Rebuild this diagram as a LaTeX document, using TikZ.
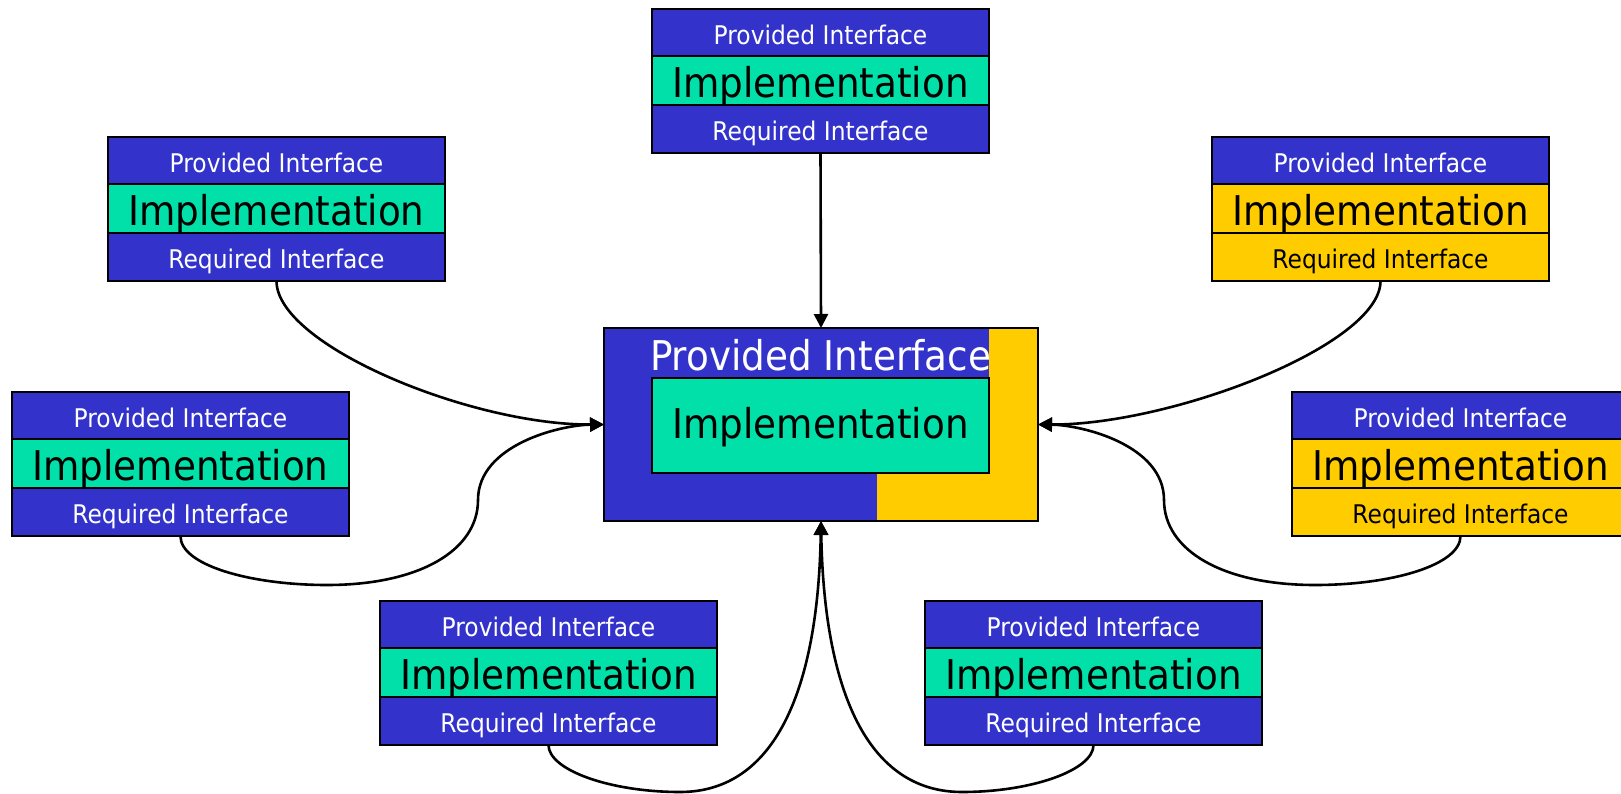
\documentclass[tikz,border=0pt]{standalone}
\usepackage{fontspec}
\setmainfont{DejaVu Sans}[FakeStretch=0.91]
\usetikzlibrary{arrows.meta}
\definecolor{cblue}{RGB}{51,51,204}
\definecolor{cgreen}{RGB}{0,224,168}
\definecolor{cyellow}{RGB}{255,204,0}
\newcommand\smallf{\fontsize{25.7}{30}\selectfont}
\newcommand\bigf{\fontsize{41}{48}\selectfont}
\tikzset{
  rowbox/.style={draw=black, line width=2pt, minimum width=337pt, inner sep=0pt, outer sep=0pt, anchor=north},
  smalltxt/.style={font=\smallf, text height=23.5pt, text depth=0pt},
  bigtxt/.style={font=\bigf, text height=33.5pt, text depth=0pt},
  conn/.style={line width=2.6pt, -{Triangle[length=14pt,width=14pt]}},
}
% name, left x, top y, impl colour, req fill, req text colour
\newcommand\compbox[6]{%
  \node[rowbox, smalltxt, fill=cblue, text=white, minimum height=47pt, anchor=north west] (#1-p) at (#2,#3) {Provided Interface};
  \node[rowbox, bigtxt, fill=#4, text=black, minimum height=49pt] (#1-i) at (#1-p.south) {Implementation};
  \node[rowbox, smalltxt, fill=#5, text=#6, minimum height=48pt] (#1-r) at (#1-i.south) {Required Interface};
}
\begin{document}
\begin{tikzpicture}[x=1pt, y=-1pt]
\useasboundingbox (0,0) rectangle (1621,794);
% centre component
\node[fill=cblue, minimum width=434pt, minimum height=193pt, inner sep=0pt, outer sep=0pt] (c) at (821,424.5) {};
\fill[cyellow] (989,328) rectangle (1038,521);
\fill[cyellow] (877,473) rectangle (1038,521);
\node[draw=black, line width=2pt, fill=cgreen, minimum width=337pt, minimum height=95pt, inner sep=0pt, bigtxt, text height=25pt] (ci) at (820.5,425.5) {Implementation};
\node[bigtxt, text=white, inner sep=0pt] (cp) at (820.5,354) {Provided Interface};
\draw[line width=2pt] (c.north west) rectangle (c.south east);
% surrounding components
\compbox{T}{652}{9}{cgreen}{cblue}{white}
\compbox{TL}{108}{137}{cgreen}{cblue}{white}
\compbox{TR}{1212}{137}{cyellow}{cyellow}{black}
\compbox{L}{12}{392}{cgreen}{cblue}{white}
\compbox{R}{1292}{392}{cyellow}{cyellow}{black}
\compbox{BL}{380}{601}{cgreen}{cblue}{white}
\compbox{BR}{925}{601}{cgreen}{cblue}{white}
% connectors
\draw[conn] (T-r.south) -- (c.north);
\draw[conn] (TL-r.south) .. controls (276.5,345) and (470,425) .. (c.west);
\draw[conn] (L-r.south) .. controls (180,565) and (250,585) .. (327,585)
  .. controls (420,585) and (478,550) .. (478,500)
  .. controls (478,445) and (560,425) .. (c.west);
\draw[conn] (TR-r.south) .. controls (1380.5,345) and (1172,425) .. (c.east);
\draw[conn] (R-r.south) .. controls (1460.5,565) and (1392,585) .. (1315,585)
  .. controls (1222,585) and (1164,550) .. (1164,500)
  .. controls (1164,445) and (1082,425) .. (c.east);
\draw[conn] (BL-r.south) .. controls (548.5,770) and (610,792) .. (680,792)
  .. controls (775,792) and (818,690) .. (c.south);
\draw[conn] (BR-r.south) .. controls (1093.5,770) and (1032,792) .. (962,792)
  .. controls (867,792) and (824,690) .. (c.south);
\end{tikzpicture}
\end{document}
